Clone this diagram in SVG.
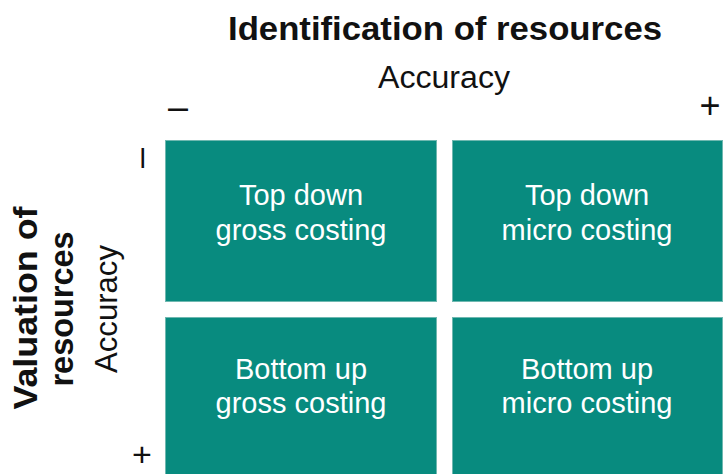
<svg xmlns="http://www.w3.org/2000/svg" width="724" height="474" viewBox="0 0 724 474">
<style>
.box{fill:#088B7F;stroke:#6FB8B0;stroke-width:1}
.bt{font-family:"Liberation Sans",Arial,sans-serif;font-size:29px;fill:#ffffff;text-anchor:middle}
.title{font-family:"Liberation Sans",Arial,sans-serif;font-size:33px;font-weight:bold;fill:#111;text-anchor:middle}
.sub{font-family:"Liberation Sans",Arial,sans-serif;font-size:31px;fill:#111;text-anchor:middle}
.sym{font-family:"Liberation Sans",Arial,sans-serif;font-size:36px;fill:#111;text-anchor:middle}
</style>
<rect width="724" height="474" fill="#ffffff"/>
<text class="title" x="445" y="40" textLength="434" lengthAdjust="spacingAndGlyphs">Identification of resources</text>
<text class="sub" x="444" y="88" textLength="132" lengthAdjust="spacingAndGlyphs">Accuracy</text>
<text class="sym" x="178" y="119">–</text>
<text class="sym" x="710" y="118">+</text>
<text class="sym" transform="translate(152,158) rotate(-90)">–</text>
<text class="sym" x="142" y="466" style="font-size:34px">+</text>
<text class="title" transform="translate(37,308) rotate(-90)" textLength="203" lengthAdjust="spacingAndGlyphs">Valuation of</text>
<text class="title" transform="translate(73,309) rotate(-90)" textLength="155" lengthAdjust="spacingAndGlyphs">resources</text>
<text class="sub" transform="translate(117,309) rotate(-90)" textLength="128" lengthAdjust="spacingAndGlyphs">Accuracy</text>
<g id="top-down-gross">
<rect class="box" x="165.5" y="140.5" width="271" height="161"/>
<text class="bt" x="301" y="205">Top down</text>
<text class="bt" x="301" y="240">gross costing</text>
</g>
<g id="top-down-micro">
<rect class="box" x="452.5" y="140.5" width="270" height="161"/>
<text class="bt" x="587" y="205">Top down</text>
<text class="bt" x="587" y="240">micro costing</text>
</g>
<g id="bottom-up-gross">
<rect class="box" x="165.5" y="317.5" width="271" height="160"/>
<text class="bt" x="301" y="379">Bottom up</text>
<text class="bt" x="301" y="413">gross costing</text>
</g>
<g id="bottom-up-micro">
<rect class="box" x="452.5" y="317.5" width="270" height="160"/>
<text class="bt" x="587" y="379">Bottom up</text>
<text class="bt" x="587" y="413">micro costing</text>
</g>
<g id="connectors"/>
</svg>
